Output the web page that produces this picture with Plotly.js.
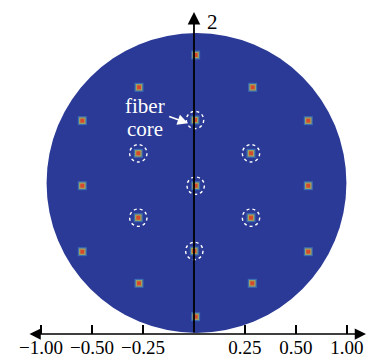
<!DOCTYPE html>
<html><head><meta charset="utf-8">
<script src="https://cdn.plot.ly/plotly-3.0.1.min.js"></script>
<style>html,body{margin:0;padding:0;background:#fff}#chart{width:371px;height:361px}</style>
</head><body><div id="chart"></div>
<script>
// Fiber core positions (axis units, 1 unit = one tick step)
const coreX = [0.033, -1.078, 1.151, -2.19, 0.02, 2.241, -1.092, 1.118, -2.19, 0.033, 2.241, -1.092, 1.118, -2.19, 0.006, 2.241, -1.078, 1.143, 0.033];
const coreY = [2.563, 1.929, 1.929, 1.275, 1.288, 1.275, 0.635, 0.635, 0, 0, 0, -0.627, -0.627, -1.294, -1.28, -1.294, -1.914, -1.914, -2.569];
const circledCores = [4, 6, 7, 9, 11, 12, 14];
const circleRadius = 0.17;
// Cladding disk
const diskCenter = [0.049, 0.053];
const diskRadius = 2.94;
// Tick positions and labels
const tickPos = [-3, -2, -1, 1, 2, 3];
const tickLabels = ['\u22121.00', '\u22120.50', '\u22120.25', '0.25', '0.50', '1.00'];
const yAxisLabel = '2';
const coreLabel = ['fiber', 'core'];

const serif = 'Liberation Serif';
const X0 = -3.804, X1 = 3.471, Y0 = -2.908, Y1 = 3.641;

const shapes = [{
  type: 'circle', xref: 'x', yref: 'y', layer: 'below',
  x0: diskCenter[0] - diskRadius, x1: diskCenter[0] + diskRadius,
  y0: diskCenter[1] - diskRadius, y1: diskCenter[1] + diskRadius,
  fillcolor: '#2a3a96', line: {width: 0}
}];
circledCores.forEach(i => shapes.push({
  type: 'circle', xref: 'x', yref: 'y',
  x0: coreX[i] - circleRadius, x1: coreX[i] + circleRadius,
  y0: coreY[i] - circleRadius, y1: coreY[i] + circleRadius,
  line: {color: '#ffffff', width: 1.4, dash: 'dot'}
}));

const core = (size, color, opacity) => ({
  x: coreX, y: coreY, type: 'scatter', mode: 'markers', hoverinfo: 'skip',
  marker: {symbol: 'square', size: size, color: color, opacity: opacity, line: {width: 0}}
});
const traces = [
  core(9, '#4a8fc4', 0.6),
  core(6.5, '#a7a55a', 0.95),
  core(4, '#d8482a', 1)
];

const annotations = [
  {x: 3.373, y: Y0, ax: -3.255, ay: Y0, xref: 'x', yref: 'y', axref: 'x', ayref: 'y',
   text: '', showarrow: true, arrowside: 'end+start', arrowhead: 2, arrowsize: 1.5, arrowwidth: 1.5, arrowcolor: '#000'},
  {x: 0, y: 3.406, ax: 0, ay: Y0, xref: 'x', yref: 'y', axref: 'x', ayref: 'y',
   text: '', showarrow: true, arrowhead: 2, arrowsize: 1.4, arrowwidth: 1.8, arrowcolor: '#000'},
  {x: 0.37, y: 3.2, xref: 'x', yref: 'y', text: yAxisLabel, showarrow: false,
   font: {family: serif, size: 21, color: '#000'}},
  {x: -0.118, y: 1.224, ax: -0.516, ay: 1.367, xref: 'x', yref: 'y', axref: 'x', ayref: 'y',
   text: '', showarrow: true, arrowhead: 2, arrowsize: 1.3, arrowwidth: 1.6, arrowcolor: '#fff'},
  {x: -0.96, y: 1.56, xref: 'x', yref: 'y', text: coreLabel[0], showarrow: false,
   font: {family: serif, size: 21, color: '#fff'}},
  {x: -0.96, y: 1.12, xref: 'x', yref: 'y', text: coreLabel[1], showarrow: false,
   font: {family: serif, size: 21, color: '#fff'}}
];

const layout = {
  width: 371, height: 361, margin: {l: 0, r: 0, t: 0, b: 27},
  paper_bgcolor: '#ffffff', plot_bgcolor: 'rgba(0,0,0,0)', showlegend: false,
  font: {family: serif},
  xaxis: {range: [X0, X1], tickmode: 'array', tickvals: tickPos, ticktext: tickLabels,
    ticks: 'inside', ticklen: 9, tickwidth: 1.3, tickcolor: '#000',
    showline: false, showgrid: false, zeroline: false, fixedrange: true,
    tickfont: {family: serif, size: 19, color: '#000'}},
  yaxis: {range: [Y0, Y1], visible: false, showgrid: false, zeroline: false, fixedrange: true},
  shapes: shapes, annotations: annotations
};

Plotly.newPlot('chart', traces, layout, {staticPlot: true, displayModeBar: false});
</script></body></html>
